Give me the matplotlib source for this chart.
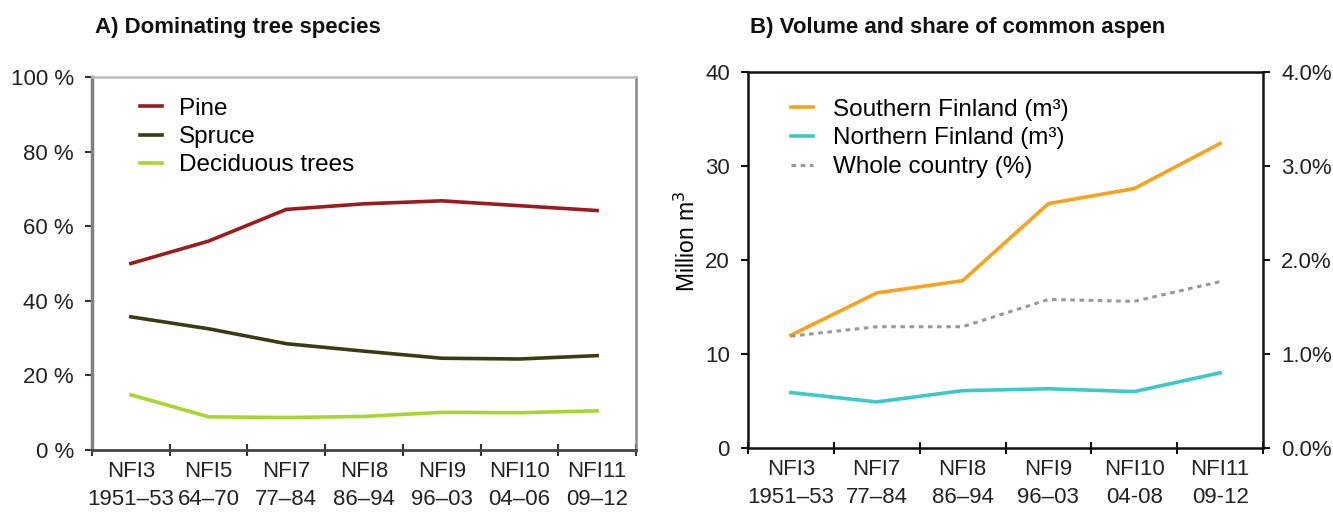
import matplotlib
matplotlib.use("Agg")
import matplotlib.pyplot as plt
import numpy as np

plt.rcParams['font.family'] = ['Liberation Sans', 'DejaVu Sans']

# Panel A data
cats_a = ["NFI3\n1951–53", "NFI5\n64–70", "NFI7\n77–84", "NFI8\n86–94",
          "NFI9\n96–03", "NFI10\n04–06", "NFI11\n09–12"]
pine = [50.0, 56.0, 64.5, 66.0, 66.8, 65.5, 64.2]
spruce = [35.7, 32.5, 28.5, 26.5, 24.6, 24.4, 25.3]
deciduous = [14.8, 8.9, 8.7, 9.0, 10.1, 10.0, 10.5]
yticks_a = [0, 20, 40, 60, 80, 100]

# Panel B data
cats_b = ["NFI3\n1951–53", "NFI7\n77–84", "NFI8\n86–94", "NFI9\n96–03",
          "NFI10\n04-08", "NFI11\n09-12"]
southern = [12.0, 16.5, 17.8, 26.0, 27.6, 32.4]
northern = [5.9, 4.9, 6.1, 6.3, 6.0, 8.0]
whole_pct = [1.19, 1.29, 1.29, 1.58, 1.56, 1.77]
yticks_b = [0, 10, 20, 30, 40]
yticks_b2 = [0.0, 1.0, 2.0, 3.0, 4.0]

W, H = 1333, 519
TICK_FS = 16
LEG_FS = 17.5
TITLE_FS = 16
TXT = "#222222"

fig = plt.figure(figsize=(W / 100, H / 100), dpi=100)

def setup_cat_axis(ax, cats, spine_color):
    n = len(cats)
    x = np.arange(n)
    ax.set_xlim(-0.5, n - 0.5)
    ax.set_xticks(x)
    ax.set_xticklabels(cats, fontsize=TICK_FS, color=TXT, linespacing=1.45)
    ax.tick_params(axis='x', which='major', length=0, pad=8)
    ax.set_xticks(np.arange(n + 1) - 0.5, minor=True)
    ax.tick_params(axis='x', which='minor', length=8, direction='inout',
                   width=1.5, color=spine_color)
    return x

# ---------- Panel A ----------
axA = fig.add_axes([92 / W, 1 - 450 / H, 544 / W, 373 / H])
xa = setup_cat_axis(axA, cats_a, "#333333")
axA.plot(xa, pine, color="#9B1B1F", lw=2.6, label="Pine")
axA.plot(xa, spruce, color="#3B3A12", lw=2.6, label="Spruce")
axA.plot(xa, deciduous, color="#A8D62E", lw=2.6, label="Deciduous trees")
axA.set_ylim(0, 100)
axA.set_yticks(yticks_a)
axA.set_yticklabels([f"{v} %" for v in yticks_a], fontsize=TICK_FS, color=TXT)
axA.tick_params(axis='y', length=5, direction='out', width=1.5, color="#333333", pad=8)
axA.spines['left'].set_color("#808080")
axA.spines['left'].set_linewidth(2.5)
axA.spines['bottom'].set_color("#444444")
axA.spines['bottom'].set_linewidth(2)
axA.spines['top'].set_color("#bbbbbb")
axA.spines['top'].set_linewidth(1.8)
axA.spines['right'].set_color("#888888")
axA.spines['right'].set_linewidth(1.8)
axA.legend(loc='upper left', bbox_to_anchor=(0.07, 0.97), frameon=False,
           fontsize=LEG_FS, handlelength=0.9, handletextpad=0.7, labelspacing=0.25,
           borderaxespad=0)
fig.text(95 / W, 1 - 28 / H, "A) Dominating tree species", fontsize=TITLE_FS,
         fontweight='bold', va='center', ha='left', color="#111111")

# ---------- Panel B ----------
axB = fig.add_axes([748 / W, 1 - 448 / H, 515 / W, 376 / H])
xb = setup_cat_axis(axB, cats_b, "#111111")
l1, = axB.plot(xb, southern, color="#F9A21C", lw=2.6, label="Southern Finland (m³)")
l2, = axB.plot(xb, northern, color="#3CC9C9", lw=2.6, label="Northern Finland (m³)")
axB.set_ylim(0, 40)
axB.set_yticks(yticks_b)
axB.set_yticklabels([str(v) for v in yticks_b], fontsize=TICK_FS, color=TXT)
axB.tick_params(axis='y', length=5, direction='out', width=1.5, color="#111111", pad=8)
axB.set_ylabel("Million m$^3$", fontsize=TICK_FS + 0.5, labelpad=6)
axB.yaxis.set_label_coords(-0.093, 0.55)
for s in axB.spines.values():
    s.set_color("#111111")
    s.set_linewidth(1.8)

axB2 = axB.twinx()
l3, = axB2.plot(xb, whole_pct, color="#999999", lw=2.2, linestyle=(0, (1.5, 1.5)),
                label="Whole country (%)")
axB2.set_ylim(0, 4)
axB2.set_yticks(yticks_b2)
axB2.set_yticklabels([f"{v:.1f}%" for v in yticks_b2], fontsize=TICK_FS, color=TXT)
axB2.tick_params(axis='y', length=5, direction='out', width=1.5, color="#111111", pad=8)
for s in axB2.spines.values():
    s.set_visible(False)

axB.legend(handles=[l1, l2, l3], loc='upper left', bbox_to_anchor=(0.065, 0.955),
           frameon=False, fontsize=LEG_FS, handlelength=0.9, handletextpad=0.8,
           labelspacing=0.28, borderaxespad=0)
fig.text(750 / W, 1 - 28 / H, "B) Volume and share of common aspen", fontsize=TITLE_FS,
         fontweight='bold', va='center', ha='left', color="#111111")

fig.savefig("out.png", dpi=100)
